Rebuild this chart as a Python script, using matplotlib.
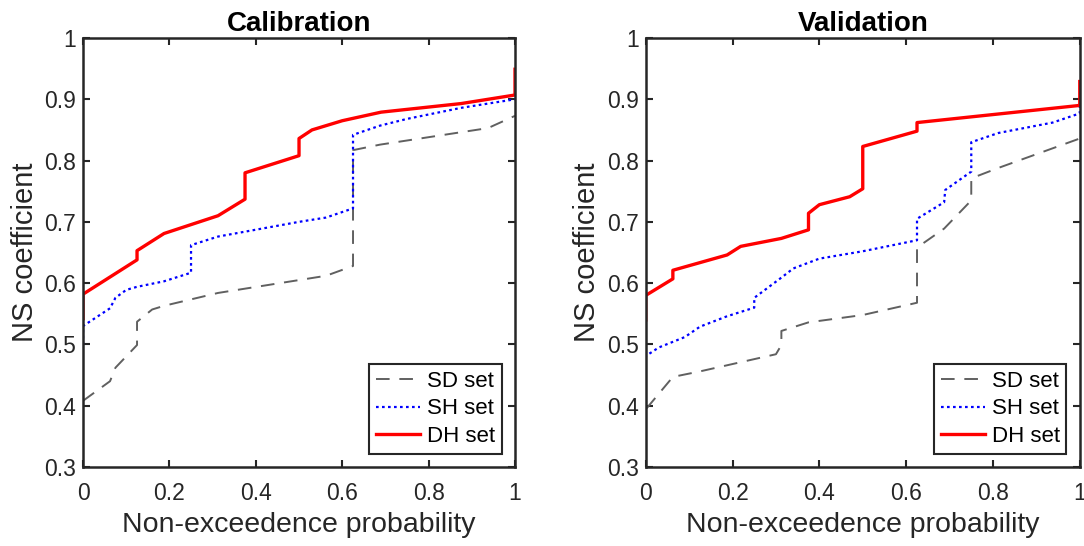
import matplotlib.pyplot as plt

plt.rcParams['font.family'] = ['Liberation Sans', 'DejaVu Sans']

# calibration curves (x = non-exceedence probability, y = NS)
cal_sd_x = [0, 0, 0.0625, 0.075, 0.125, 0.125, 0.16, 0.1875, 0.3125, 0.5625, 0.625, 0.625, 0.6875, 0.9375, 1]
cal_sd_y = [0.37, 0.408, 0.44, 0.462, 0.499, 0.537, 0.557, 0.563, 0.584, 0.612, 0.628, 0.817, 0.826, 0.853, 0.873]

cal_sh_x = [0, 0, 0.0625, 0.075, 0.1, 0.125, 0.1875, 0.25, 0.25, 0.3125, 0.5, 0.5625, 0.625, 0.625, 0.6875, 0.75, 0.875, 1]
cal_sh_y = [0.50, 0.53, 0.559, 0.576, 0.589, 0.594, 0.603, 0.617, 0.662, 0.676, 0.700, 0.707, 0.722, 0.842, 0.857, 0.868, 0.886, 0.900]

cal_dh_x = [0, 0, 0.125, 0.125, 0.1875, 0.3125, 0.375, 0.375, 0.5, 0.5, 0.53, 0.6, 0.69, 0.875, 1, 1]
cal_dh_y = [0.542, 0.582, 0.638, 0.653, 0.681, 0.710, 0.737, 0.780, 0.808, 0.836, 0.850, 0.865, 0.879, 0.893, 0.907, 0.949]

# validation curves
val_sd_x = [0, 0, 0.0625, 0.125, 0.3, 0.3125, 0.3125, 0.375, 0.5, 0.625, 0.625, 0.6875, 0.75, 0.75, 0.8125, 1]
val_sd_y = [0.358, 0.394, 0.447, 0.456, 0.484, 0.499, 0.522, 0.536, 0.548, 0.568, 0.658, 0.689, 0.735, 0.771, 0.788, 0.836]

val_sh_x = [0, 0, 0.03, 0.09, 0.125, 0.1875, 0.25, 0.25, 0.3125, 0.34, 0.4, 0.5, 0.625, 0.625, 0.6875, 0.69,
            0.75, 0.75, 0.8125, 0.9375, 1, 1]
val_sh_y = [0.449, 0.481, 0.495, 0.512, 0.529, 0.546, 0.560, 0.576, 0.609, 0.624, 0.640, 0.652, 0.670, 0.705,
            0.732, 0.752, 0.782, 0.830, 0.845, 0.862, 0.877, 0.89]

val_dh_x = [0, 0, 0.0625, 0.0625, 0.1875, 0.21875, 0.3125, 0.375, 0.375, 0.4, 0.47, 0.5, 0.5, 0.625, 0.625, 1, 1]
val_dh_y = [0.540, 0.580, 0.607, 0.621, 0.646, 0.660, 0.673, 0.687, 0.714, 0.728, 0.741, 0.754, 0.823, 0.848,
            0.862, 0.890, 0.929]

fig = plt.figure(figsize=(10.84, 5.46), dpi=100)
ax1 = fig.add_axes([0.0766, 0.1447, 0.3985, 0.7857])
ax2 = fig.add_axes([0.5957, 0.1447, 0.4004, 0.7857])

panels = [
    (ax1, 'Calibration', cal_sd_x, cal_sd_y, cal_sh_x, cal_sh_y, cal_dh_x, cal_dh_y),
    (ax2, 'Validation', val_sd_x, val_sd_y, val_sh_x, val_sh_y, val_dh_x, val_dh_y),
]

for ax, title, sdx, sdy, shx, shy, dhx, dhy in panels:
    ax.plot(sdx, sdy, color='#606060', linestyle=(0, (7, 5)), linewidth=1.4, label='SD set')
    ax.plot(shx, shy, color='#0000ff', linestyle=(0, (1.2, 1.5)), linewidth=1.6, label='SH set')
    ax.plot(dhx, dhy, color='#ff0000', linestyle='-', linewidth=2.4, label='DH set')
    ax.set_xlim(0, 1)
    ax.set_ylim(0.3, 1)
    ax.set_xticks([0, 0.2, 0.4, 0.6, 0.8, 1])
    ax.set_xticklabels(['0', '0.2', '0.4', '0.6', '0.8', '1'])
    ax.set_yticks([0.3, 0.4, 0.5, 0.6, 0.7, 0.8, 0.9, 1])
    ax.set_yticklabels(['0.3', '0.4', '0.5', '0.6', '0.7', '0.8', '0.9', '1'])
    ax.tick_params(direction='in', top=True, right=True, length=5, width=1.5,
                   labelsize=16.5, colors='#262626')
    ax.tick_params(axis='x', pad=11)
    ax.tick_params(axis='y', pad=5)
    for s in ax.spines.values():
        s.set_linewidth(1.8)
        s.set_color('#262626')
    ax.set_title(title, fontsize=20, fontweight='bold', pad=5)
    ax.set_xlabel('Non-exceedence probability', fontsize=20.5, color='#262626', labelpad=5)
    ax.set_ylabel('NS coefficient', fontsize=21, color='#262626', labelpad=4)
    leg = ax.legend(loc='lower right', fontsize=16, fancybox=False, framealpha=1,
                    edgecolor='#262626', handlelength=2.0, borderaxespad=0.6,
                    labelspacing=0.3, handletextpad=0.3, borderpad=0.3)
    leg.get_frame().set_linewidth(1.5)

fig.savefig('out.png', dpi=100)
